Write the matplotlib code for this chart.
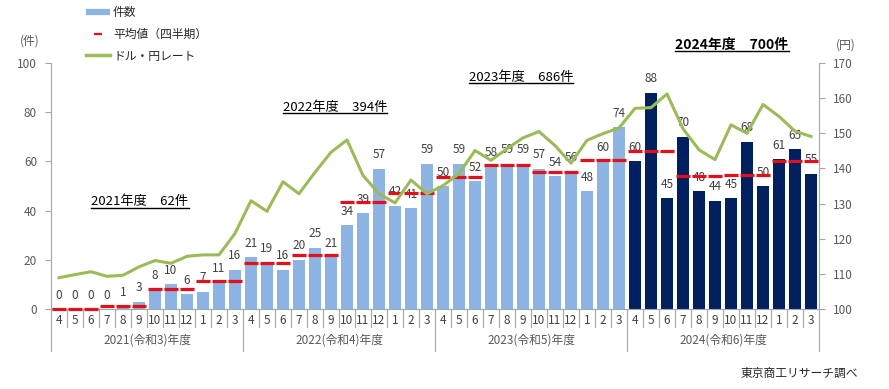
import numpy as np
import matplotlib
matplotlib.use('Agg')
import matplotlib.pyplot as plt
from matplotlib.lines import Line2D
from matplotlib.transforms import blended_transform_factory

plt.rcParams['font.family'] = ['Noto Sans CJK JP', 'DejaVu Sans']
plt.rcParams['axes.unicode_minus'] = False

# データ
months = [4, 5, 6, 7, 8, 9, 10, 11, 12, 1, 2, 3] * 4
fiscal_years = ['2021(令和3)年度', '2022(令和4)年度', '2023(令和5)年度', '2024(令和6)年度']
counts = [0, 0, 0, 0, 1, 3, 8, 10, 6, 7, 11, 16,
          21, 19, 16, 20, 25, 21, 34, 39, 57, 42, 41, 59,
          50, 59, 52, 58, 59, 59, 57, 54, 56, 48, 60, 74,
          60, 88, 45, 70, 48, 44, 45, 68, 50, 61, 65, 55]
usd_jpy = [108.9, 109.8, 110.6, 109.3, 109.6, 112.0, 113.8, 113.0, 115.0, 115.4, 115.4, 121.5,
           130.8, 127.8, 136.2, 132.8, 138.9, 144.6, 148.1, 138.0, 132.8, 130.2, 136.7, 132.8,
           135.1, 138.5, 145.1, 142.3, 145.6, 148.7, 150.5, 146.5, 141.5, 148.0, 149.9, 151.5,
           157.1, 157.3, 161.2, 151.3, 145.3, 142.5, 152.4, 150.0, 158.2, 154.8, 150.6, 149.1]
fy_totals = ['2021年度\u300062件', '2022年度\u3000394件', '2023年度\u3000686件', '2024年度\u3000700件']

light_blue = '#8EB4E3'
navy = '#002060'
red = '#E3101C'
green = '#9BBB59'
gray = '#595959'
axis_gray = '#A6A6A6'

x = np.arange(len(counts))
counts_arr = np.array(counts)
quarter_avg = np.repeat(counts_arr.reshape(-1, 3).mean(axis=1), 3)
bar_colors = [navy if i >= 36 else light_blue for i in x]

fig = plt.figure(figsize=(8.89, 3.89), dpi=100)
ax = fig.add_axes([51 / 889, 80 / 389, 768 / 889, 246 / 389])

ax.bar(x, counts, width=0.72, color=bar_colors, zorder=2)

# 数値ラベル（平均値の線の下）
for xi, v in zip(x, counts):
    ax.annotate(str(v), (xi, v), xytext=(0, 10), textcoords='offset points',
                ha='center', va='center', fontsize=8.5, color='#404040', zorder=3)

ax.hlines(quarter_avg, x - 0.41, x + 0.41, colors=red, linewidth=2.3, zorder=4,
          clip_on=False)

ax.set_xlim(-0.5, len(counts) - 0.5)
ax.set_ylim(0, 100)
ax.set_yticks(range(0, 101, 20))
ax.tick_params(axis='y', direction='out', length=4, width=0.8, color=axis_gray,
               labelsize=8.5, labelcolor=gray, pad=6)
ax.set_xticks([])
for s in ['top', 'right']:
    ax.spines[s].set_visible(False)
ax.spines['left'].set_color(axis_gray)
ax.spines['bottom'].set_color(axis_gray)

# 月・年度の区切り
trans = blended_transform_factory(ax.transData, ax.transAxes)
for i in range(len(counts) + 1):
    y_end = -0.17 if i % 12 == 0 else -0.075
    ax.add_line(Line2D([i - 0.5, i - 0.5], [0, y_end], transform=trans,
                       color=axis_gray, linewidth=0.8, clip_on=False))
for xi, m in zip(x, months):
    ax.text(xi, -0.048, str(m), transform=trans, ha='center', va='center',
            fontsize=8.5, color='#404040')
for k, fy in enumerate(fiscal_years):
    ax.text(k * 12 + 5.5, -0.128, fy, transform=trans, ha='center', va='center',
            fontsize=8.5, color=gray)

# ドル・円レート
ax2 = ax.twinx()
ax2.plot(x, usd_jpy, color=green, linewidth=2.2, zorder=4)
ax2.set_ylim(100, 170)
ax2.set_yticks(range(100, 171, 10))
ax2.tick_params(axis='y', direction='out', length=4, width=0.8, color=axis_gray,
                labelsize=8.5, labelcolor=gray, pad=6)
for s in ['top', 'left', 'bottom']:
    ax2.spines[s].set_visible(False)
ax2.spines['right'].set_color(axis_gray)

fig.text(30 / 889, 1 - 41 / 389, '(件)', ha='center', va='center', fontsize=8.5, color=gray)
fig.text(846 / 889, 1 - 45 / 389, '(円)', ha='center', va='center', fontsize=8.5, color=gray)
fig.text(858 / 889, 1 - 373 / 389, '東京商工リサーチ調べ', ha='right', va='center',
         fontsize=8.5, color='#262626')

# 年度合計（下線付き）
ann_pos = [(140, 202), (335, 107), (521, 77), (732, 45)]
ann_texts = []
for k, (t, (px, py)) in enumerate(zip(fy_totals, ann_pos)):
    ann_texts.append(fig.text(px / 889, 1 - py / 389, t, ha='center', va='center',
                              fontsize=10 if k == 3 else 9.5, color='black',
                              fontweight='bold' if k == 3 else 'normal'))

handles = [Line2D([], [], color=light_blue, linewidth=4.5, solid_capstyle='butt'),
           Line2D([], [], color=red, marker='_', linestyle='None', markersize=6, mew=1.6),
           Line2D([], [], color=green, linewidth=2.5)]
fig.legend(handles, ['件数', '平均値（四半期）', 'ドル・円レート'], loc='upper left',
           bbox_to_anchor=(80 / 889, 1 - 0 / 389), frameon=False, fontsize=8.5,
           handlelength=2.0, handletextpad=0.3, labelspacing=0.75, borderpad=0,
           labelcolor='#262626')

fig.canvas.draw()
renderer = fig.canvas.get_renderer()
for t in ann_texts:
    bb = t.get_window_extent(renderer)
    fig.add_artist(Line2D([bb.x0, bb.x1], [bb.y0 + 1, bb.y0 + 1], transform=None,
                          color='black', linewidth=1.0))

fig.savefig('out.png', dpi=100)
